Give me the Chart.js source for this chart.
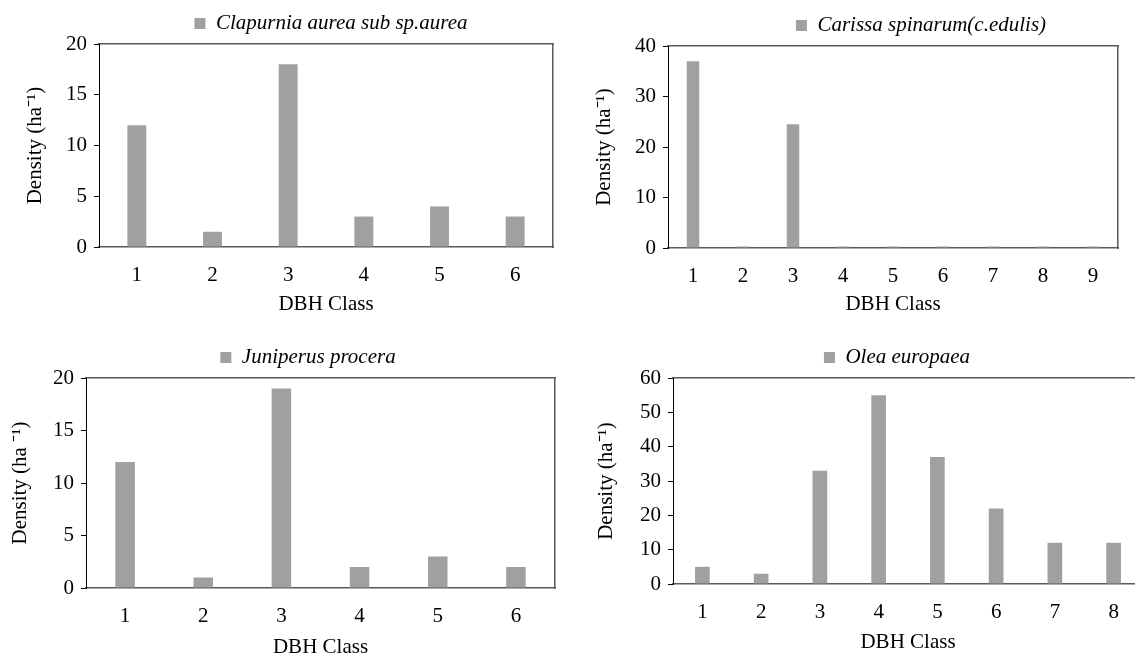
<!DOCTYPE html>
<html>
<head>
<meta charset="utf-8">
<script src="https://cdn.jsdelivr.net/npm/chart.js@4.4.1/dist/chart.umd.min.js"></script>
<style>
    html, body {
        margin: 0;
        width: 1135px;
        height: 659px;
        overflow: hidden;
        background: #ffffff;
    }
    canvas {
        position: absolute;
    }
</style>
</head>
<body>
<canvas id="chart-clapurnia"></canvas>
<canvas id="chart-carissa"></canvas>
<canvas id="chart-juniperus"></canvas>
<canvas id="chart-olea"></canvas>
<script>
// values
const clapurniaClasses = ["1", "2", "3", "4", "5", "6"];
const clapurniaDensity = [12, 1.5, 18, 3, 4, 3];

const carissaClasses = ["1", "2", "3", "4", "5", "6", "7", "8", "9"];
const carissaDensity = [37, 0.3, 24.5, 0.3, 0.3, 0.3, 0.3, 0.3, 0.3];

const juniperusClasses = ["1", "2", "3", "4", "5", "6"];
const juniperusDensity = [12, 1, 19, 2, 3, 2];

const oleaClasses = ["1", "2", "3", "4", "5", "6", "7", "8"];
const oleaDensity = [5, 3, 33, 55, 37, 22, 12, 12];

const yTicksSmall = [0, 5, 10, 15, 20];
const yTicksCarissa = [0, 10, 20, 30, 40];
const yTicksOlea = [0, 10, 20, 30, 40, 50, 60];

const FONT = "'Liberation Serif', 'Times New Roman', serif";
const FONT_SIZE = 21;
const BAR_GREY = "#a0a0a0";
const FRAME_GREY = "#595959";

Chart.defaults.font.family = FONT;
Chart.defaults.color = "#000000";

// moves the legend so it sits where the original one did
const legendShift = {
    id: "legendShift",
    afterLayout(chart, args, opts) {
        const lg = chart.legend;
        if (!lg || opts.centerX == null) return;
        const dx = opts.centerX - (lg.left + lg.right) / 2;
        lg.left += dx;
        lg.right += dx;
    },
};

function createDensityChart(id, labels, values, name, yTicks, yTitle, box) {
    const canvas = document.getElementById(id);
    canvas.width = box.w;
    canvas.height = box.h;
    canvas.style.left = box.x + "px";
    canvas.style.top = box.y + "px";

    const yMax = yTicks[yTicks.length - 1];
    const yStep = yTicks[1] - yTicks[0];

    new Chart(canvas.getContext("2d"), {
        type: "bar",
        data: {
            labels,
            datasets: [
                {
                    label: name,
                    data: values,
                    backgroundColor: BAR_GREY,
                    borderWidth: 0,
                    categoryPercentage: 1,
                    barPercentage: 0.25,
                    xAxisID: "x",
                    yAxisID: "y",
                },
            ],
        },
        options: {
            responsive: false,
            animation: false,
            layout: {
                padding: {
                    left: box.padLeft,
                    right: box.padRight,
                    top: box.padTop,
                    bottom: box.padBottom,
                },
            },
            plugins: {
                tooltip: { enabled: false },
                legendShift: { centerX: box.legendX },
                legend: {
                    position: "top",
                    labels: {
                        boxWidth: 11,
                        boxHeight: 11,
                        padding: box.legendPad,
                        color: "#000000",
                        font: { family: FONT, size: FONT_SIZE, style: "italic" },
                    },
                },
            },
            scales: {
                x: {
                    position: "bottom",
                    grid: { display: false },
                    border: { display: true, color: FRAME_GREY, width: 1.5 },
                    ticks: {
                        padding: 8,
                        font: { size: FONT_SIZE },
                        color: "#000000",
                    },
                    title: {
                        display: true,
                        text: "DBH Class",
                        padding: 0,
                        font: { size: FONT_SIZE },
                        color: "#000000",
                    },
                    afterFit: (s) => {
                        s.height = box.xHeight;
                    },
                },
                xTop: {
                    type: "category",
                    position: "top",
                    labels,
                    grid: { display: false },
                    ticks: { display: false },
                    border: { display: true, color: FRAME_GREY, width: 1.5 },
                    afterFit: (s) => {
                        s.height = 0;
                    },
                },
                y: {
                    position: "left",
                    min: 0,
                    max: yMax,
                    ticks: {
                        stepSize: yStep,
                        padding: 7,
                        font: { size: FONT_SIZE },
                        color: "#000000",
                    },
                    grid: {
                        display: true,
                        drawOnChartArea: false,
                        drawTicks: true,
                        tickLength: 5,
                        color: "#000000",
                    },
                    border: { display: true, color: "#000000", width: 1 },
                    title: {
                        display: true,
                        text: yTitle,
                        padding: 0,
                        font: { size: FONT_SIZE },
                        color: "#000000",
                    },
                    afterFit: (s) => {
                        s.width = box.yWidth;
                    },
                },
                yRight: {
                    type: "linear",
                    position: "right",
                    min: 0,
                    max: yMax,
                    grid: { display: false },
                    ticks: { display: false },
                    border: { display: true, color: FRAME_GREY, width: 1.5 },
                    afterFit: (s) => {
                        s.width = 0;
                    },
                },
            },
        },
        plugins: [legendShift],
    });
}

createDensityChart(
    "chart-clapurnia",
    clapurniaClasses,
    clapurniaDensity,
    "Clapurnia aurea sub sp.aurea",
    yTicksSmall,
    "Density (ha\u207B\u00B9)",
    {
        x: 0, y: 0, w: 567, h: 330,
        padLeft: 23, padRight: 14, padTop: 12, padBottom: 13,
        legendPad: 1, legendX: 331,
        yWidth: 76, xHeight: 70,
    },
);

createDensityChart(
    "chart-carissa",
    carissaClasses,
    carissaDensity,
    "Carissa spinarum(c.edulis)",
    yTicksCarissa,
    "Density (ha\u207B\u00B9)",
    {
        x: 567, y: 0, w: 568, h: 330,
        padLeft: 25, padRight: 17, padTop: 15, padBottom: 13,
        legendPad: 0, legendX: 921 - 567,
        yWidth: 76, xHeight: 69,
    },
);

createDensityChart(
    "chart-juniperus",
    juniperusClasses,
    juniperusDensity,
    "Juniperus procera",
    yTicksSmall,
    "Density (ha \u207B\u00B9)",
    {
        x: 0, y: 330, w: 567, h: 335,
        padLeft: 8, padRight: 12, padTop: 15, padBottom: 5,
        legendPad: 2, legendX: 308,
        yWidth: 78, xHeight: 72,
    },
);

createDensityChart(
    "chart-olea",
    oleaClasses,
    oleaDensity,
    "Olea europaea",
    yTicksOlea,
    "Density (ha\u207B\u00B9)",
    {
        x: 567, y: 330, w: 590, h: 335,
        padLeft: 27, padRight: 14, padTop: 17, padBottom: 10,
        legendPad: 0, legendX: 897 - 567,
        yWidth: 79, xHeight: 71,
    },
);
</script>
</body>
</html>
